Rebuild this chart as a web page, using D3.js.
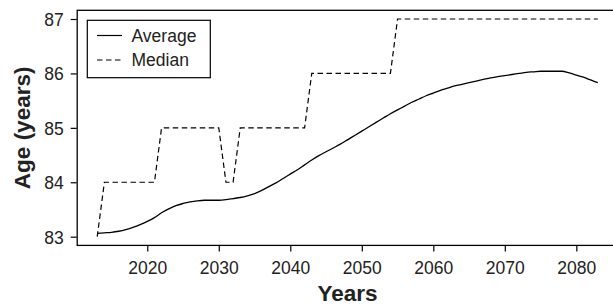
<!DOCTYPE html>
<html>
<head>
<meta charset="utf-8">
<script src="https://cdn.jsdelivr.net/npm/d3@7"></script>
<style>
  body { margin: 0; background: #fff; }
  text { font-family: "Liberation Sans", Arial, sans-serif; }
</style>
</head>
<body>
<div id="chart"></div>
<script>
// years 2013..2083, one value per year
var years = d3.range(2013, 2084);

var average = [
  83.06, 83.07, 83.08, 83.10, 83.13, 83.17, 83.22, 83.28, 83.35, 83.44,
  83.51, 83.57, 83.61, 83.64, 83.66, 83.67, 83.67, 83.67, 83.68, 83.70,
  83.72, 83.75, 83.79, 83.85, 83.92, 83.99, 84.07, 84.15, 84.23, 84.32,
  84.41, 84.49, 84.56, 84.63, 84.70, 84.78, 84.86, 84.94, 85.02, 85.10,
  85.18, 85.26, 85.33, 85.40, 85.47, 85.53, 85.59, 85.64, 85.69, 85.73,
  85.77, 85.80, 85.83, 85.86, 85.89, 85.92, 85.94, 85.96, 85.98, 86.00,
  86.02, 86.03, 86.04, 86.04, 86.04, 86.04, 86.01, 85.97, 85.93, 85.88,
  85.83
];

var median = [
  83, 84, 84, 84, 84, 84, 84, 84, 84, 85,
  85, 85, 85, 85, 85, 85, 85, 85, 84, 84,
  85, 85, 85, 85, 85, 85, 85, 85, 85, 85,
  86, 86, 86, 86, 86, 86, 86, 86, 86, 86,
  86, 86, 87, 87, 87, 87, 87, 87, 87, 87,
  87, 87, 87, 87, 87, 87, 87, 87, 87, 87,
  87, 87, 87, 87, 87, 87, 87, 87, 87, 87,
  87
];

var xTicks = [2020, 2030, 2040, 2050, 2060, 2070, 2080];
var yTicks = [83, 84, 85, 86, 87];
var seriesNames = ["Average", "Median"];

var W = 613, H = 307;
var pLeft = 77.2, pRight = 617.8, pTop = 10.3, pBottom = 245.4;

var svg = d3.select("#chart").append("svg")
  .attr("width", W)
  .attr("height", H);

var x = d3.scaleLinear().domain([2010.2, 2085.8]).range([pLeft, pRight]);
var y = d3.scaleLinear().domain([82.84, 87.16]).range([pBottom, pTop]);

// plot box (right edge falls just outside the picture)
svg.append("rect")
  .attr("x", pLeft).attr("y", pTop)
  .attr("width", pRight - pLeft).attr("height", pBottom - pTop)
  .attr("fill", "none").attr("stroke", "#000").attr("stroke-width", 1.3);

// axes
var xAxis = svg.append("g")
  .attr("transform", "translate(0," + (pBottom + 0.5) + ")")
  .call(d3.axisBottom(x).tickValues(xTicks).tickFormat(d3.format("d")).tickSize(5.5).tickPadding(10));
var yAxis = svg.append("g")
  .attr("transform", "translate(" + (pLeft - 0.5) + ",0)")
  .call(d3.axisLeft(y).tickValues(yTicks).tickFormat(d3.format("d")).tickSize(6).tickPadding(7));

[xAxis, yAxis].forEach(function(g) {
  g.select(".domain").remove();
  g.selectAll("line").attr("stroke", "#000").attr("stroke-width", 1.2);
  g.selectAll("text")
    .attr("fill", "#222")
    .style("font-size", "17.5px")
    .style("font-family", "'Liberation Sans', Arial, sans-serif");
});
yAxis.selectAll("text").attr("dy", "0.36em");

// axis titles
svg.append("text")
  .attr("x", (pLeft + pRight) / 2).attr("y", 301)
  .attr("text-anchor", "middle")
  .style("font-size", "22.5px").style("font-weight", "bold")
  .attr("fill", "#222")
  .text("Years");

svg.append("text")
  .attr("transform", "translate(30," + (pTop + pBottom) / 2 + ") rotate(-90)")
  .attr("text-anchor", "middle")
  .style("font-size", "22.5px").style("font-weight", "bold")
  .attr("fill", "#222")
  .text("Age (years)");

// lines
var line = d3.line()
  .x(function(d) { return x(d[0]); })
  .y(function(d) { return y(d[1]); });

svg.append("path")
  .datum(years.map(function(yr, i) { return [yr, median[i]]; }))
  .attr("d", line)
  .attr("fill", "none")
  .attr("stroke", "#000")
  .attr("stroke-width", 1.2)
  .attr("stroke-dasharray", "5.5,3.5");

svg.append("path")
  .datum(years.map(function(yr, i) { return [yr, average[i]]; }))
  .attr("d", line.curve(d3.curveMonotoneX))
  .attr("fill", "none")
  .attr("stroke", "#000")
  .attr("stroke-width", 1.3);

// legend
var legend = svg.append("g");
legend.append("rect")
  .attr("x", 87.3).attr("y", 20.3)
  .attr("width", 123).attr("height", 57.4)
  .attr("fill", "#fff").attr("stroke", "#000").attr("stroke-width", 1.2);

seriesNames.forEach(function(name, i) {
  var ly = 35.5 + i * 24.5;
  legend.append("line")
    .attr("x1", 97).attr("x2", 122)
    .attr("y1", ly).attr("y2", ly)
    .attr("stroke", "#000").attr("stroke-width", 1.2)
    .attr("stroke-dasharray", i === 1 ? "5.5,3.5" : null);
  legend.append("text")
    .attr("x", 131.5).attr("y", ly)
    .attr("dy", "0.36em")
    .style("font-size", "17.5px")
    .attr("fill", "#222")
    .text(name);
});
</script>
</body>
</html>
